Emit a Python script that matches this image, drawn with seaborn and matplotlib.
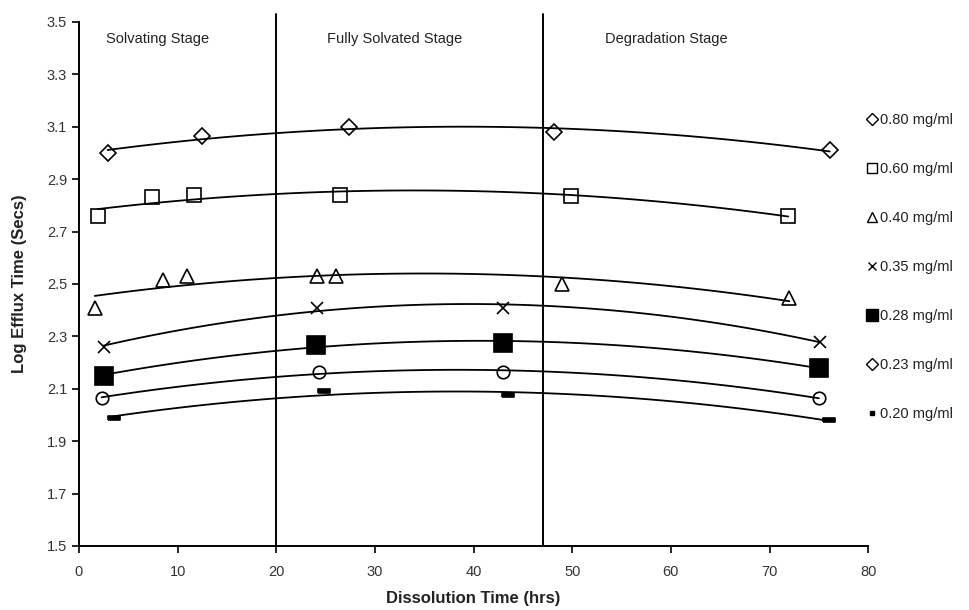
import numpy as np
import pandas as pd
import matplotlib
matplotlib.use("Agg")
import matplotlib.pyplot as plt
from matplotlib.lines import Line2D
import seaborn as sns

# values
labels = ["0.80 mg/ml", "0.60 mg/ml", "0.40 mg/ml", "0.35 mg/ml",
          "0.28 mg/ml", "0.23 mg/ml", "0.20 mg/ml"]

x_080 = [2.9, 12.5, 27.4, 48.1, 76.1]
y_080 = [3.00, 3.065, 3.10, 3.08, 3.01]

x_060 = [1.9, 7.4, 11.7, 26.5, 49.9, 71.9]
y_060 = [2.76, 2.83, 2.84, 2.84, 2.836, 2.76]

x_040 = [1.6, 8.5, 11.0, 24.1, 26.1, 49.0, 72.0]
y_040 = [2.41, 2.515, 2.53, 2.53, 2.53, 2.50, 2.445]

x_035 = [2.5, 24.1, 43.0, 75.1]
y_035 = [2.26, 2.41, 2.41, 2.28]

x_028 = [2.5, 24.0, 43.0, 75.0]
y_028 = [2.15, 2.267, 2.275, 2.18]

x_023 = [2.3, 24.3, 43.0, 75.0]
y_023 = [2.065, 2.164, 2.164, 2.065]

x_020 = [3.5, 24.8, 43.5, 76.0]
y_020 = [1.99, 2.09, 2.075, 1.98]

stage_names = ["Solvating Stage", "Fully Solvated Stage", "Degradation Stage"]
stage_x = [8.0, 32.0, 59.5]
stage_bounds = [20, 47]

xs = [x_080, x_060, x_040, x_035, x_028, x_023, x_020]
ys = [y_080, y_060, y_040, y_035, y_028, y_023, y_020]

dash = [(-1, -0.3), (1, -0.3), (1, 0.3), (-1, 0.3), (-1, -0.3)]
markers = ["D", "s", "^", "x", "s", "o", dash]
legend_markers = ["D", "s", "^", "x", "s", "D", "s"]
filled = [False, False, False, True, True, False, True]
msizes = [8, 10, 10, 9, 13, 9, 9]
legend_sizes = [6, 7, 7, 6, 9, 6, 3]

rows = []
for lab, xv, yv in zip(labels, xs, ys):
    for a, b in zip(xv, yv):
        rows.append({"series": lab, "time": a, "log_efflux": b})
df = pd.DataFrame(rows)

sns.set_style("ticks")
plt.rcParams["font.family"] = ["Liberation Sans", "DejaVu Sans"]

fig = plt.figure(figsize=(9.69, 6.10), dpi=100)
ax = fig.add_axes([0.0815, 0.105, 0.8145, 0.859])

for i, lab in enumerate(labels):
    sub = df[df["series"] == lab]
    # second-order trend line
    sns.regplot(data=sub, x="time", y="log_efflux", order=2, ci=None,
                scatter=False, truncate=True, ax=ax,
                line_kws={"color": "black", "lw": 1.3})
    if filled[i]:
        ax.plot(sub["time"], sub["log_efflux"], ls="none", marker=markers[i],
                ms=msizes[i], color="black", mec="black", mew=1.2)
    else:
        ax.plot(sub["time"], sub["log_efflux"], ls="none", marker=markers[i],
                ms=msizes[i], mfc="none", mec="black", mew=1.2)

for b in stage_bounds:
    ax.axvline(b, ymin=0, ymax=1.015, color="black", lw=1.4, clip_on=False)

for name, sx in zip(stage_names, stage_x):
    ax.text(sx, 3.435, name, ha="center", va="center", fontsize=10.5,
            color="#222222")

ax.set_xlim(0, 80)
ax.set_ylim(1.5, 3.5)
ax.set_xticks(np.arange(0, 81, 10))
ax.set_yticks(np.round(np.arange(1.5, 3.51, 0.2), 1))
ax.set_yticklabels([f"{v:.1f}" for v in np.arange(1.5, 3.51, 0.2)])
ax.tick_params(labelsize=10.5, width=1.2, length=5, color="black",
               labelcolor="#333333")
ax.tick_params(axis="x", pad=9)
for s in ["left", "bottom"]:
    ax.spines[s].set_linewidth(1.4)
    ax.spines[s].set_color("black")
sns.despine(ax=ax)

ax.set_xlabel("Dissolution Time (hrs)", fontsize=12, fontweight="bold",
              labelpad=8, color="#222222")
ax.set_ylabel("Log Efflux Time (Secs)", fontsize=12, fontweight="bold",
              labelpad=14, color="#222222")

handles = []
for i, lab in enumerate(labels):
    fill = filled[i]
    handles.append(Line2D([], [], ls="none", marker=legend_markers[i],
                          ms=legend_sizes[i], mfc="black" if fill else "none",
                          mec="black", mew=1.0, label=lab))
leg = ax.legend(handles=handles, loc="upper left", bbox_to_anchor=(0.992, 0.837),
                frameon=False, fontsize=10.5, labelspacing=2.4, handlelength=0.6,
                handletextpad=0.25, borderaxespad=0)
for t in leg.get_texts():
    t.set_color("#222222")

fig.savefig("out.png", dpi=100)
